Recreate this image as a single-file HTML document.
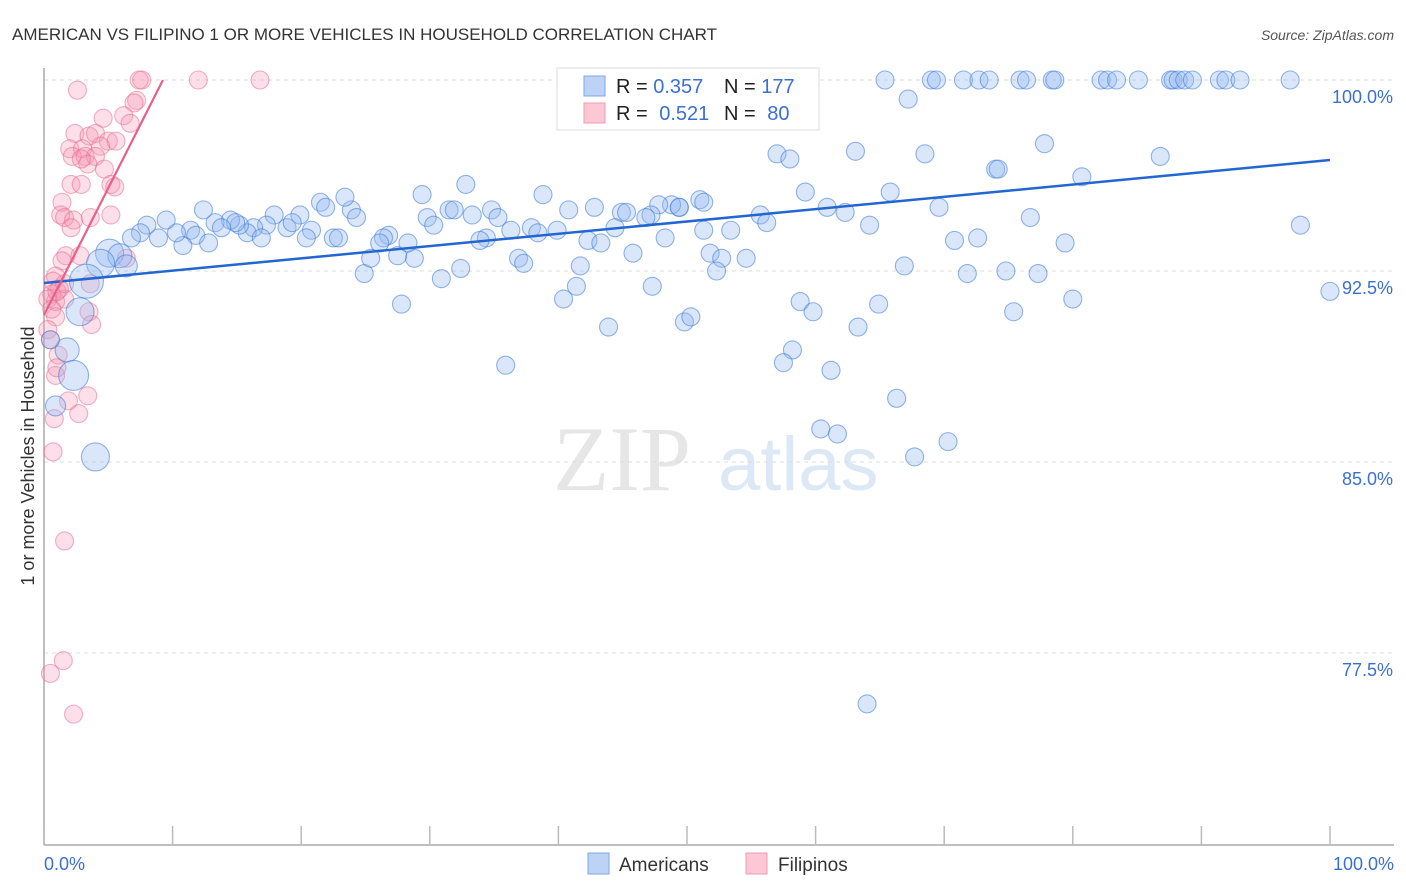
<!DOCTYPE html>
<html><head><meta charset="utf-8"><style>
body{margin:0;background:#fff;}
svg{display:block;font-family:"Liberation Sans",sans-serif;}
</style></head><body>
<svg id="chart" width="1406" height="892">
<text x="12" y="40" font-size="17" fill="#333">AMERICAN VS FILIPINO 1 OR MORE VEHICLES IN HOUSEHOLD CORRELATION CHART</text>
<text x="1394" y="40" font-size="14" fill="#555" font-style="italic" text-anchor="end">Source: ZipAtlas.com</text>
<g>
<text x="553" y="490" font-size="92" fill="#e6e6e6" font-family="Liberation Serif,serif">ZIP</text>
<text x="718" y="490" font-size="76" fill="#dde8f6">atlas</text>
</g>
<g id="grid"></g>
<g id="axes"></g>
<g id="pts"></g>
<g id="trend"></g>
<text transform="translate(34,456) rotate(-90)" font-size="18" fill="#333" text-anchor="middle">1 or more Vehicles in Household</text>
<text x="44" y="870" font-size="18" fill="#3b6fd1">0.0%</text>
<text x="1394" y="870" font-size="18" fill="#3b6fd1" text-anchor="end">100.0%</text>
<g>
<rect x="557" y="68" width="262" height="62" fill="#fff" stroke="#ddd"/>
<rect x="584" y="76" width="21" height="20" fill="#bcd3f5" stroke="#7fa6e6"/>
<rect x="584" y="103" width="21" height="20" fill="#fcc8d6" stroke="#f09ab2"/>
<text x="616" y="93" font-size="20" fill="#222">R = <tspan fill="#3b6fd1">0.357</tspan></text>
<text x="724" y="93" font-size="20" fill="#222">N = <tspan fill="#3b6fd1">177</tspan></text>
<text x="616" y="120" font-size="20" fill="#222">R = <tspan fill="#3b6fd1" dx="6">0.521</tspan></text>
<text x="724" y="120" font-size="20" fill="#222">N = <tspan fill="#3b6fd1" dx="6">80</tspan></text>
</g>
<g>
<rect x="588" y="853" width="21" height="21" fill="#bcd3f5" stroke="#7fa6e6"/>
<text x="619" y="871" font-size="19" fill="#333">Americans</text>
<rect x="746" y="853" width="21" height="21" fill="#fcc8d6" stroke="#f09ab2"/>
<text x="778" y="871" font-size="19" fill="#333">Filipinos</text>
</g>
</svg>
<script>
const yTicks=[100,92.5,85,77.5];
const yTickLabels=["100.0%","92.5%","85.0%","77.5%"];
const xTicks=[0,10,20,30,40,50,60,70,80,90,100];
const blueTrend=[92.03,96.86];
const pinkTrend=[90.77,100,9.25];
const americansX=[65.4,69.0,69.4,71.5,72.7,73.5,75.9,76.4,78.4,78.6,82.2,82.7,83.4,85.1,87.6,87.8,88.2,88.7,89.3,91.4,91.9,93.0,96.9,
67.2,54.1,54.3,57.0,58.0,63.1,68.5,77.8,86.8,74.0,74.2,80.7,97.7,100,59.2,65.8,69.6,76.7,60.9,62.3,64.2,55.7,56.2,53.4,70.8,72.6,79.4,66.9,71.8,74.8,77.3,80.0,75.4,64.9,63.3,58.8,59.8,58.2,57.5,61.2,66.3,60.4,61.7,70.3,67.7,64.0,
51.0,51.3,49.4,48.8,47.8,49.4,47.2,44.9,45.3,46.8,44.4,42.8,40.8,38.8,37.9,38.4,39.9,34.8,35.3,32.8,33.3,31.5,31.9,29.8,30.3,29.4,34.4,33.9,36.3,42.3,43.3,48.3,51.8,51.3,52.7,54.6,52.3,45.8,41.7,41.4,40.4,36.9,37.3,32.4,30.9,28.8,27.5,28.3,26.8,26.4,26.1,24.9,25.4,27.8,
23.9,24.3,23.4,21.5,21.9,19.9,20.8,18.9,19.3,17.9,17.3,16.3,15.8,16.9,15.2,14.5,14.9,13.3,13.8,12.4,11.4,11.8,12.8,10.8,10.3,9.5,8.9,8.0,7.5,6.8,22.5,22.9,20.4,35.9,43.9,49.8,50.3,47.3,
5.1,5.9,6.4,4.4,3.3,2.8,1.8,2.3,0.9,4.0,0.5];
const americansY=[100,100,100,100,100,100,100,100,100,100,100,100,100,100,100,100,100,100,100,100,100,100,100,
99.25,99.45,98.4,97.1,96.9,97.2,97.1,97.5,97.0,96.5,96.5,96.2,94.3,91.7,95.6,95.6,95.0,94.6,95.0,94.8,94.3,94.7,94.4,94.1,93.7,93.8,93.6,92.7,92.4,92.5,92.4,91.4,90.9,91.2,90.3,91.3,90.9,89.4,88.9,88.6,87.5,86.3,86.1,85.8,85.2,75.5,
95.3,95.2,95.0,95.1,95.1,95.0,94.7,94.8,94.8,94.6,94.2,95.0,94.9,95.5,94.2,94.0,94.1,94.9,94.6,95.9,94.7,94.9,94.9,94.6,94.3,95.5,93.8,93.7,94.1,93.7,93.6,93.8,93.2,94.1,93.0,93.0,92.5,93.2,92.7,91.9,91.4,93.0,92.8,92.6,92.2,93.0,93.1,93.6,93.9,93.8,93.6,92.4,93.0,91.2,
94.9,94.6,95.4,95.2,95.0,94.7,94.1,94.2,94.4,94.7,94.3,94.2,94.0,93.8,94.3,94.5,94.4,94.4,94.2,94.9,94.1,93.9,93.6,93.5,94.0,94.5,93.8,94.3,94.0,93.8,93.8,93.8,93.8,88.8,90.3,90.5,90.7,91.9,
93.2,93.1,92.7,92.8,92.1,90.9,89.4,88.4,87.2,85.2,89.8];
const tailSizes=[14,12,11,14,17,14,12,15,10,14,9];
const filipinosX=[7.6,7.4,12.0,16.8,2.6,7.2,7.0,6.2,6.7,4.6,2.4,3.5,4.0,5.0,5.6,2.0,3.0,4.4,2.2,3.2,4.0,3.4,2.9,4.7,2.1,2.9,5.2,5.5,1.4,1.3,1.6,2.3,3.6,5.2,2.1,1.7,2.8,1.4,0.9,1.2,0.6,0.9,1.6,0.3,0.6,0.9,0.3,0.5,1.1,0.9,1.0,3.5,3.7,6.4,3.6,1.9,3.4,2.7,0.8,0.7,1.6,1.5,0.5,2.3,1.0,1.6,0.7];
const filipinosY=[100,100,100,100,99.6,99.2,99.1,98.6,98.3,98.5,97.9,97.8,97.9,97.6,97.6,97.3,97.3,97.4,97.0,97.0,97.0,96.7,96.9,96.5,95.9,95.9,95.9,95.8,95.2,94.7,94.6,94.5,94.6,94.7,94.2,93.1,93.1,92.9,92.3,91.8,91.6,91.3,91.4,91.4,91.0,90.7,90.2,89.8,89.2,88.4,88.7,90.9,90.4,93.0,92.0,87.4,87.6,86.9,86.7,85.4,81.9,77.2,76.7,75.1,91.7,92.0,92.1];
const X0=44,X1=1330,Y100=80,PXP=191/7.5;
const xs=v=>X0+(X1-X0)*v/100;
const ys=v=>Y100+(100-v)*PXP;
const NS="http://www.w3.org/2000/svg";
function mk(t,a,p){const e=document.createElementNS(NS,t);for(const k in a)e.setAttribute(k,a[k]);p.appendChild(e);return e;}
const grid=document.getElementById('grid');
yTicks.forEach((v,i)=>{
 const l=mk('line',{x1:44,x2:1394,y1:ys(v),y2:ys(v),stroke:'#ddd','stroke-dasharray':'4,4'},grid);
 
 
 const t=mk('text',{x:1393,y:ys(v)+23,'font-size':18,fill:'#3b6fd1','text-anchor':'end'},grid);
 t.textContent=yTickLabels[i];
 
 
});
const ax=document.getElementById('axes');
let a1=mk('line',{x1:44,x2:44,y1:68,y2:845,stroke:'#aaa','stroke-width':1.5},ax);


let a2=mk('line',{x1:44,x2:1394,y1:845,y2:845,stroke:'#aaa','stroke-width':1.5},ax);


xTicks.forEach(v=>{
 const t=mk('line',{x1:xs(v),x2:xs(v),y1:826,y2:845,stroke:'#bbb','stroke-width':1.5},ax);
 
 
});
const pts=document.getElementById('pts');
filipinosX.forEach((v,i)=>{
 const c=mk('circle',{cx:xs(v),cy:ys(filipinosY[i]),r:9,fill:'rgba(246,150,180,0.3)',stroke:'rgba(232,100,140,0.5)','stroke-width':1.1},pts);
 
 
});
const tailStart=americansX.length-tailSizes.length;
americansX.forEach((v,i)=>{
 const r=i>=tailStart?tailSizes[i-tailStart]:9;
 const c=mk('circle',{cx:xs(v),cy:ys(americansY[i]),r:r,fill:'rgba(150,185,240,0.35)',stroke:'rgba(60,120,215,0.55)','stroke-width':1.1},pts);
 
 
});
const tr=document.getElementById('trend');
let b=mk('line',{x1:xs(0),y1:ys(blueTrend[0]),x2:xs(100),y2:ys(blueTrend[1]),stroke:'#2266d0','stroke-width':2.5},tr);


let p=mk('line',{x1:xs(0),y1:ys(pinkTrend[0]),x2:xs(pinkTrend[2]),y2:ys(pinkTrend[1]),stroke:'#e8608a','stroke-width':2.2},tr);


</script>
</body></html>
